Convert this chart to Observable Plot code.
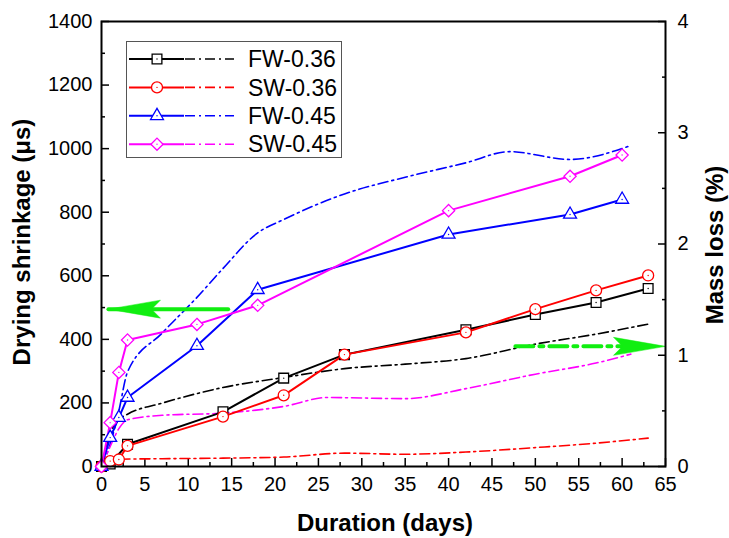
<!DOCTYPE html>
<html><head><meta charset="utf-8">
<script src="https://cdn.jsdelivr.net/npm/d3@7"></script>
<script src="https://cdn.jsdelivr.net/npm/@observablehq/plot@0.6"></script>
<style>
body{margin:0;background:#fff}
#wrap{position:relative;width:729px;height:538px;font-family:'Liberation Sans',Arial,sans-serif;color:#000}
.t{position:absolute;font-weight:bold;font-size:24px;white-space:nowrap;line-height:1}
#legend{position:absolute;left:126px;top:41px;width:214px;height:115px;border:1px solid #555;background:#fff}
</style>
</head><body><div id="wrap"></div>
<script>
// ---- data: drying shrinkage (solid lines, left axis, µs) ----
const fw036Days = [0, 1, 3, 14, 21, 28, 42, 50, 57, 63];
const fw036Shrink = [0, 8, 70, 172, 278, 352, 430, 478, 516, 560];
const sw036Days = [0, 1, 2, 3, 14, 21, 28, 42, 50, 57, 63];
const sw036Shrink = [0, 17, 22, 65, 157, 224, 352, 422, 495, 554, 601];
const fw045Days = [0, 1, 2, 3, 11, 18, 40, 54, 60];
const fw045Shrink = [0, 91, 154, 217, 380, 556, 730, 793, 840];
const sw045Days = [0, 1, 2, 3, 11, 18, 40, 54, 60];
const sw045Shrink = [0, 138, 296, 398, 447, 507, 805, 913, 980];

// ---- data: mass loss (dash-dot lines, right axis, %) ----
const fw036MassDays = [0, 1, 2, 3, 7, 14, 21, 28, 35, 42, 50, 57, 63];
const fw036Mass = [0, 0.3, 0.42, 0.47, 0.57, 0.71, 0.8, 0.88, 0.92, 0.97, 1.1, 1.19, 1.28];
const sw036MassDays = [0, 1, 2, 7, 14, 21, 28, 35, 42, 50, 57, 63];
const sw036Mass = [0, 0.04, 0.065, 0.07, 0.075, 0.085, 0.12, 0.11, 0.13, 0.17, 0.21, 0.255];
const fw045MassDays = [0, 1, 2, 3, 7, 11, 14, 18, 21, 28, 35, 42, 47, 54, 61];
const fw045Mass = [0, 0.2, 0.5, 0.85, 1.2, 1.52, 1.78, 2.1, 2.22, 2.45, 2.6, 2.73, 2.83, 2.76, 2.885];
const sw045MassDays = [0, 1, 2, 3, 7, 14, 21, 26, 35, 42, 50, 57, 61];
const sw045Mass = [0, 0.18, 0.34, 0.42, 0.46, 0.48, 0.54, 0.62, 0.61, 0.7, 0.83, 0.93, 1.01];

// ---- series meta ----
const seriesNames = ["FW-0.36", "SW-0.36", "FW-0.45", "SW-0.45"];
const seriesColors = ["#000000", "#ff0000", "#0000ff", "#ff00ff"];
const seriesSymbols = ["square", "circle", "triangle", "diamond2"];

// ---- axes ----
const xTicks = d3.range(0, 66, 5);
const xMinorTicks = d3.range(2.5, 65, 5);
const yTicks = d3.range(0, 1401, 200);
const yMinorTicks = d3.range(100, 1400, 200);
const massTicks = [0, 1, 2, 3, 4];
const massMinorTicks = [0.5, 1.5, 2.5, 3.5];
const massFactor = 350; // 4 % ↔ 1400 µs

// ---- arrows (data coordinates) ----
const arrowLeftX = [0.8, 14.6];
const arrowLeftShrink = 495;
const arrowRightX = [47.7, 65];
const arrowRightMass = 1.08;

const shrinkSets = [
  [fw036Days, fw036Shrink], [sw036Days, sw036Shrink], [fw045Days, fw045Shrink], [sw045Days, sw045Shrink]
];
const massSets = [
  [fw036MassDays, fw036Mass], [sw036MassDays, sw036Mass], [fw045MassDays, fw045Mass], [sw045MassDays, sw045Mass]
];

const shrinkRows = shrinkSets.flatMap(([d, v], k) => d.map((x, i) => ({series: seriesNames[k], x, y: v[i]})));
const massRows = massSets.flatMap(([d, v], k) => d.map((x, i) => ({series: seriesNames[k], x, y: v[i] * massFactor})));

const arrowHead = {
  draw(ctx) {
    ctx.moveTo(0, 0);
    ctx.lineTo(52, -9);
    ctx.lineTo(43, 0);
    ctx.lineTo(52, 9);
    ctx.closePath();
  }
};
const green = "#11ee11";
const dashDot = "10,4,2,4";
const symbolR = [5.5, 5.5, 4.8, 5.5];

const marks = [];
// tick marks (inward)
marks.push(Plot.axisY(yTicks, {anchor: "left", tickSize: -8, fill: "none", label: null, strokeWidth: 1.5}));
marks.push(Plot.axisY(yMinorTicks, {anchor: "left", tickSize: -4, fill: "none", label: null, strokeWidth: 1.5}));
marks.push(Plot.axisY(massTicks.map(d => d * massFactor), {anchor: "right", tickSize: -8, fill: "none", label: null, strokeWidth: 1.5}));
marks.push(Plot.axisY(massMinorTicks.map(d => d * massFactor), {anchor: "right", tickSize: -4, fill: "none", label: null, strokeWidth: 1.5}));
marks.push(Plot.axisX(xTicks, {anchor: "bottom", tickSize: -8, fill: "none", label: null, strokeWidth: 1.5}));
marks.push(Plot.axisX(xMinorTicks, {anchor: "bottom", tickSize: -4, fill: "none", label: null, strokeWidth: 1.5}));
// tick labels
marks.push(Plot.axisY(yTicks, {anchor: "left", tickSize: 0, tickPadding: 9, label: null, fontSize: 20, tickFormat: d => String(d)}));
marks.push(Plot.axisY(massTicks.map(d => d * massFactor), {anchor: "right", tickSize: 0, tickPadding: 12, label: null, fontSize: 20, tickFormat: d => String(d / massFactor)}));
marks.push(Plot.axisX(xTicks, {anchor: "bottom", tickSize: 0, tickPadding: 10, label: null, fontSize: 20, tickFormat: d => String(d)}));

// mass loss dash-dot curves
seriesNames.forEach((s, k) => {
  marks.push(Plot.line(massRows.filter(r => r.series === s), {x: "x", y: "y", stroke: seriesColors[k], strokeWidth: 1.6, strokeDasharray: dashDot, curve: "monotone-x"}));
});
// shrinkage solid lines
seriesNames.forEach((s, k) => {
  marks.push(Plot.line(shrinkRows.filter(r => r.series === s), {x: "x", y: "y", stroke: seriesColors[k], strokeWidth: 2}));
});
seriesNames.forEach((s, k) => {
  const rows = shrinkRows.filter(r => r.series === s);
  marks.push(Plot.dot(rows, {x: "x", y: "y", symbol: seriesSymbols[k], r: symbolR[k], stroke: seriesColors[k], strokeWidth: 1.3, fill: "white"}));
  marks.push(Plot.dot(rows, {x: "x", y: "y", r: 0.7, fill: seriesColors[k]}));
});

// arrows
marks.push(Plot.line(arrowLeftX.map(x => ({x, y: arrowLeftShrink})), {x: "x", y: "y", stroke: green, strokeWidth: 4}));
marks.push(Plot.dot([{x: arrowLeftX[0], y: arrowLeftShrink}], {x: "x", y: "y", symbol: arrowHead, fill: green, stroke: green, strokeWidth: 0.5}));
marks.push(Plot.line([{x: arrowRightX[0], y: arrowRightMass * massFactor}, {x: arrowRightX[1] - 5, y: arrowRightMass * massFactor}], {x: "x", y: "y", stroke: green, strokeWidth: 4, strokeDasharray: "18,6,4,6"}));
marks.push(Plot.dot([{x: arrowRightX[1], y: arrowRightMass * massFactor}], {x: "x", y: "y", symbol: arrowHead, rotate: 180, fill: green, stroke: green, strokeWidth: 0.5}));

marks.push(Plot.frame({stroke: "black", strokeWidth: 2}));

const chart = Plot.plot({
  width: 729, height: 538,
  marginLeft: 101, marginRight: 64, marginTop: 21, marginBottom: 72,
  x: {domain: [0, 65]},
  y: {domain: [0, 1400]},
  style: {fontFamily: "'Liberation Sans', Arial, sans-serif", fontSize: "20px", color: "black", background: "white", overflow: "visible"},
  marks
});

const wrap = document.getElementById("wrap");
wrap.appendChild(chart);

// axis titles
function addTitle(text, cx, cy, rot) {
  const d = document.createElement("div");
  d.className = "t";
  d.textContent = text;
  d.style.left = cx + "px";
  d.style.top = cy + "px";
  d.style.transform = `translate(-50%,-50%)${rot ? " rotate(-90deg)" : ""}`;
  wrap.appendChild(d);
}
addTitle("Drying shrinkage (μs)", 22, 242, true);
addTitle("Mass loss (%)", 715, 245, true);
addTitle("Duration (days)", 385, 523, false);

// legend
const leg = document.createElement("div");
leg.id = "legend";
wrap.appendChild(leg);
const lsvg = d3.select(leg).append("svg").attr("width", 214).attr("height", 115);
seriesNames.forEach((s, k) => {
  const y = 17 + k * 28.4;
  const g = lsvg.append("g").attr("transform", `translate(0,${y})`);
  g.append("line").attr("x1", 2).attr("x2", 57).attr("stroke", seriesColors[k]).attr("stroke-width", 2);
  g.append("line").attr("x1", 58).attr("x2", 107).attr("stroke", seriesColors[k]).attr("stroke-width", 1.6).attr("stroke-dasharray", dashDot);
  const sym = {square: d3.symbolSquare, circle: d3.symbolCircle, triangle: d3.symbolTriangle, diamond2: d3.symbolDiamond2}[seriesSymbols[k]];
  const r = symbolR[k];
  g.append("path").attr("transform", "translate(30,0)").attr("d", d3.symbol(sym, Math.PI * r * r)()).attr("fill", "white").attr("stroke", seriesColors[k]).attr("stroke-width", 1.3);
  g.append("circle").attr("cx", 30).attr("r", 0.7).attr("fill", seriesColors[k]);
  g.append("text").attr("x", 121).attr("y", 0).attr("dy", "0.36em").attr("font-size", 23).attr("font-family", "'Liberation Sans', Arial, sans-serif").text(s);
});
</script>
</body></html>
